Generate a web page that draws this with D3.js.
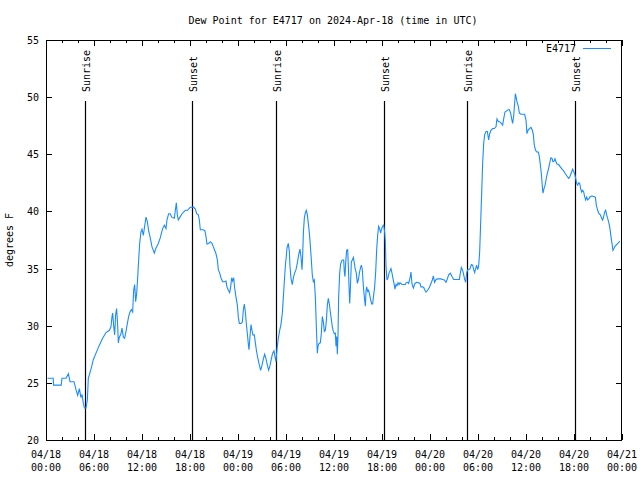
<!DOCTYPE html>
<html><head><meta charset="utf-8">
<script src="https://cdn.jsdelivr.net/npm/d3@7"></script>
<style>
body{margin:0;background:#fff}
svg text{font-family:"DejaVu Sans Mono","Liberation Mono",monospace;font-size:10px;fill:#000}
</style>
</head><body>
<svg id="chart" width="640" height="480"></svg>
<script>
// Hours after 2024-04-18 00:00 UTC
const hours = [
0.2,0.9,0.95,1.9,2.0,2.5,2.8,3.0,3.5,3.75,
3.96,4.17,4.37,4.5,4.67,4.8,5.0,5.17,5.29,5.5,
5.7,5.9,6.25,6.67,7.08,7.5,7.92,8.12,8.25,8.33,
8.46,8.58,8.71,8.83,8.96,9.04,9.17,9.37,9.5,9.67,
9.83,10.0,10.17,10.33,10.5,10.67,10.83,10.96,11.08,11.21,
11.33,11.46,11.58,11.71,11.87,12.0,12.17,12.33,12.5,12.67,
12.83,13.0,13.25,13.54,13.75,14.04,14.29,14.58,14.79,
15.0,15.12,15.33,15.54,15.71,16.04,16.17,16.29,16.42,16.54,
16.75,17.0,17.42,17.71,18.0,18.42,18.67,18.83,19.04,19.17,
19.29,19.67,19.87,20.0,20.12,20.33,20.54,20.75,20.92,21.08,
21.25,21.42,21.54,21.71,21.87,22.08,22.33,22.5,22.62,22.79,
22.96,23.08,23.21,23.33,23.46,23.58,23.75,23.92,24.04,24.17,
24.37,24.54,24.67,24.79,24.92,25.04,25.17,25.29,25.37,25.5,
25.62,25.75,25.87,26.04,26.17,26.33,26.5,26.67,26.83,27.0,
27.17,27.33,27.5,27.67,27.83,28.0,28.17,28.33,28.5,28.62,
28.75,28.87,29.04,29.21,29.37,29.54,29.67,29.83,29.96,
30.0,30.12,30.29,30.42,30.5,30.62,30.79,30.92,31.08,31.25,
31.42,31.58,31.75,31.87,32.0,32.08,32.17,32.29,32.42,32.54,
32.67,32.79,32.92,33.04,33.17,33.29,33.42,33.54,33.67,33.75,
33.83,33.92,34.0,34.12,34.29,34.42,34.54,34.67,34.79,34.92,
35.04,35.17,35.29,35.42,35.54,35.67,35.79,35.92,36.04,36.17,
36.25,36.33,36.42,36.5,36.58,36.71,36.83,36.96,37.08,37.21,
37.29,37.37,37.46,37.58,37.71,37.79,37.87,37.96,38.04,38.17,
38.29,38.42,38.54,38.67,38.79,38.92,39.04,39.17,39.29,39.42,
39.54,39.62,39.71,39.83,39.92,40.0,40.08,40.21,40.33,40.46,
40.58,40.71,40.83,40.96,41.08,41.21,41.33,41.46,41.58,41.71,
41.83,41.96,42.08,42.21,42.33,42.42,42.5,42.62,42.75,42.87,
43.0,43.12,43.25,43.37,43.5,43.62,43.75,43.87,44.0,44.12,
44.25,44.37,44.5,44.67,44.92,
45.0,45.21,45.33,45.54,45.62,45.75,45.92,46.12,46.33,46.58,
46.75,46.87,47.08,47.21,47.37,47.5,47.71,47.92,48.12,48.29,
48.42,48.58,48.75,48.96,49.17,49.37,49.58,49.79,50.0,50.17,
50.33,50.54,50.75,50.96,51.17,51.46,51.67,51.79,51.92,52.04,
52.17,52.33,52.46,52.58,52.71,52.83,53.0,53.17,53.33,53.46,
53.58,53.71,53.83,53.96,54.08,54.21,54.33,54.46,54.58,54.71,
54.83,55.0,55.17,55.33,55.46,55.62,55.83,56.04,56.25,56.37,
56.54,56.71,56.92,57.08,57.21,57.37,57.58,57.75,57.92,58.08,
58.21,58.33,58.46,58.58,58.67,58.75,58.87,59.04,59.17,59.37,
59.58,59.83,
60.0,60.12,60.25,60.42,60.62,60.79,60.92,61.04,61.17,61.33,
61.54,61.67,61.79,61.92,62.04,62.12,62.25,62.37,62.5,62.62,
62.75,62.87,63.0,63.12,63.25,63.37,63.5,63.62,63.75,63.87,
64.08,64.29,64.5,64.71,64.92,65.12,65.33,65.46,65.62,65.83,
65.96,66.08,66.21,66.33,66.46,66.58,66.71,66.83,66.96,67.08,
67.21,67.33,67.46,67.58,67.71,67.83,68.04,68.25,68.46,68.67,
68.79,68.96,69.12,69.29,69.46,69.58,69.71,69.83,69.96,70.08,
70.21,70.37,70.5,70.62,70.75,70.87,71.0,71.12,71.33,71.54,
71.71
];
const dewPoint = [
25.4,25.4,24.8,24.8,25.4,25.4,25.8,25.1,25.1,24.4,
23.9,24.5,23.7,24.0,23.2,22.8,22.8,23.5,25.4,25.9,
26.4,27.0,27.6,28.3,28.9,29.4,29.6,29.9,30.8,31.1,
30.0,29.2,31.0,31.5,30.0,28.5,29.0,29.3,29.8,29.0,
28.9,29.5,30.2,30.8,31.2,31.4,31.2,33.1,33.6,32.1,
32.8,34.2,35.75,37.2,38.2,38.45,37.9,38.7,39.5,39.1,
38.3,37.8,36.9,36.35,36.8,37.2,37.7,38.5,38.8,
38.5,39.25,39.8,39.8,39.5,39.4,40.1,40.75,39.7,39.25,
39.5,39.8,40.1,40.1,40.35,40.4,40.2,39.8,39.7,39.25,
38.4,38.4,38.3,37.8,37.15,37.2,37.35,37.2,36.9,36.6,
36.3,35.75,34.9,34.6,34.2,33.85,33.85,33.9,33.4,33.1,
32.9,33.4,34.2,33.9,34.2,33.3,32.5,31.8,30.75,30.2,
30.2,30.3,31.4,31.9,31.2,30.2,29.3,28.4,27.9,29.05,
30.1,29.6,29.2,29.2,28.5,27.7,27.1,26.55,26.1,26.55,
27.1,27.5,27.1,26.55,26.1,26.5,27.1,27.6,27.8,27.3,
26.85,27.9,28.9,29.6,30.1,31.1,32.5,34.3,35.6,
35.75,36.8,37.2,36.5,35.2,34.15,33.6,34.2,34.6,34.9,
35.5,36.2,36.7,36.05,34.9,36.05,38.1,39.4,39.9,40.1,
39.7,38.95,38.1,37.05,35.75,34.4,33.85,34.0,32.5,30.8,
29.2,27.6,28.2,28.45,28.5,29.35,30.8,30.35,29.5,29.6,
30.4,31.8,32.4,31.9,31.2,30.55,29.9,29.5,29.3,29.35,
28.2,29.05,27.5,29.2,32.5,34.6,35.4,35.7,35.75,35.75,
34.7,34.3,35.5,36.6,36.65,35.2,33.6,31.95,33.1,35.6,
35.75,35.97,35.5,34.9,34.6,33.7,34.0,34.6,35.0,35.3,
34.9,34.0,33.1,32.25,31.7,33.0,33.4,33.0,33.1,32.7,
32.25,31.9,31.9,32.7,33.4,34.7,36.6,37.95,38.7,38.5,
38.1,38.5,38.7,38.8,38.2,37.35,35.2,34.0,34.2,34.6,
34.8,35.0,34.6,34.15,33.7,33.2,33.6,33.5,33.75,33.6,
33.75,33.7,33.6,33.6,33.6,
33.75,33.8,33.7,34.3,34.7,33.65,33.3,33.7,33.8,33.75,
33.7,33.4,33.4,33.35,33.1,32.95,33.1,33.35,33.7,34.0,
34.35,33.8,34.05,34.1,34.1,34.1,34.05,34.0,33.8,34.1,
34.45,34.6,34.3,34.05,34.05,34.05,34.05,34.6,35.1,34.9,
34.6,34.05,33.8,34.6,34.9,34.9,35.0,35.35,35.3,34.9,
34.65,35.0,35.3,34.9,35.2,36.5,38.95,41.6,44.2,45.95,
46.7,47.0,47.0,46.25,46.8,47.1,47.25,47.25,47.4,48.1,
47.85,47.85,47.7,47.55,48.1,48.7,48.8,48.9,48.9,48.6,
48.1,47.7,48.35,49.45,50.3,50.05,49.6,49.2,48.6,48.5,
48.5,48.5,
48.0,46.8,47.1,47.25,47.35,47.1,46.7,45.8,45.4,45.2,
45.2,44.8,44.1,43.3,42.2,41.6,42.0,42.25,42.75,43.2,
43.55,43.9,44.35,44.7,44.65,44.35,44.4,44.6,44.35,44.15,
44.1,43.9,43.7,43.55,43.3,43.1,42.9,43.0,43.3,43.7,
43.5,43.3,42.9,42.45,42.3,42.5,42.45,42.0,41.7,41.85,
41.7,41.3,41.0,41.25,41.0,41.1,41.3,41.35,41.3,41.25,
40.55,40.1,39.8,39.7,39.4,39.25,39.55,39.95,40.1,39.7,
39.4,38.95,38.5,37.8,37.2,36.6,36.75,36.95,37.1,37.25,
37.4
];
const sunLabels = ["Sunrise","Sunset","Sunrise","Sunset","Sunrise","Sunset"];
const sunHours = [4.83, 18.29, 28.79, 42.29, 52.67, 66.17];
const yTicks = [20,25,30,35,40,45,50,55];
const title = "Dew Point for E4717 on 2024-Apr-18 (time in UTC)";
const seriesName = "E4717";
const yLabel = "degrees F";

const HOUR = 3600000;
const t0 = Date.UTC(2024,3,18,0,0);
const toDate = h => new Date(t0 + h*HOUR);
const data = hours.map((h,i)=>({t:toDate(h), v:dewPoint[i]}));

const L=46, R=622, T=40, B=440;
const svg = d3.select("#chart");
const x = d3.scaleUtc().domain([toDate(0), toDate(72)]).range([L,R]);
const y = d3.scaleLinear().domain([20,55]).range([B,T]);
const blue = "#1a8cff";

const majorTicks = d3.utcHour.every(6).range(toDate(0), toDate(72.01));
const minorTicks = d3.utcHour.every(2).range(toDate(0), toDate(72.01));

function style(g){ g.select(".domain").remove(); g.selectAll("line").attr("stroke","#000").attr("shape-rendering","crispEdges"); }

svg.append("g").attr("transform",`translate(0,${B})`)
  .call(d3.axisBottom(x).tickValues(minorTicks).tickSize(-3).tickFormat("")).call(style);
svg.append("g").attr("transform",`translate(0,${B})`)
  .call(d3.axisBottom(x).tickValues(majorTicks).tickSize(-6).tickFormat("")).call(style);
svg.append("g").attr("transform",`translate(0,${T})`)
  .call(d3.axisTop(x).tickValues(minorTicks).tickSize(-3).tickFormat("")).call(style);
svg.append("g").attr("transform",`translate(0,${T})`)
  .call(d3.axisTop(x).tickValues(majorTicks).tickSize(-6).tickFormat("")).call(style);

svg.append("g").attr("transform",`translate(${L},0)`)
  .call(d3.axisLeft(y).tickValues(yTicks).tickSize(-6).tickPadding(7))
  .call(style)
  .call(g=>g.selectAll("text").attr("font-size",null).attr("font-family",null).attr("fill","#000").attr("dy","0.35em"));
svg.append("g").attr("transform",`translate(${R},0)`)
  .call(d3.axisRight(y).tickValues(yTicks).tickSize(-6).tickFormat("")).call(style);

// x tick labels, two lines
const fmtD = d3.utcFormat("%m/%d"), fmtH = d3.utcFormat("%H:%M");
const xl = svg.append("g");
majorTicks.forEach(d=>{
  xl.append("text").attr("x",x(d)).attr("y",458).attr("text-anchor","middle").text(fmtD(d));
  xl.append("text").attr("x",x(d)).attr("y",471).attr("text-anchor","middle").text(fmtH(d));
});

// sunrise / sunset markers
sunHours.forEach((h,i)=>{
  const xx = Math.round(x(toDate(h)))+0.5;
  svg.append("line").attr("x1",xx).attr("x2",xx).attr("y1",101).attr("y2",B)
    .attr("stroke","#000").attr("stroke-width",1.2);
  svg.append("text").attr("transform",`translate(${xx+4.5},92) rotate(-90)`)
    .attr("text-anchor","start").text(sunLabels[i]);
});

// frame
svg.append("rect").attr("x",L+0.5).attr("y",T+0.5).attr("width",R-L-1).attr("height",B-T)
  .attr("fill","none").attr("stroke","#000").attr("shape-rendering","crispEdges");

// series
svg.append("path").datum(data)
  .attr("d", d3.line().x(d=>x(d.t)).y(d=>y(d.v)))
  .attr("fill","none").attr("stroke",blue).attr("stroke-width",1.1);

// title and labels
svg.append("text").attr("x",333).attr("y",24).attr("text-anchor","middle").text(title);
svg.append("text").attr("transform","translate(13,240) rotate(-90)").attr("text-anchor","middle").text(yLabel);

// legend
svg.append("text").attr("x",576).attr("y",52).attr("text-anchor","end").text(seriesName);
svg.append("line").attr("x1",583).attr("x2",611).attr("y1",48.5).attr("y2",48.5).attr("stroke",blue).attr("stroke-width",1);
</script>
</body></html>
